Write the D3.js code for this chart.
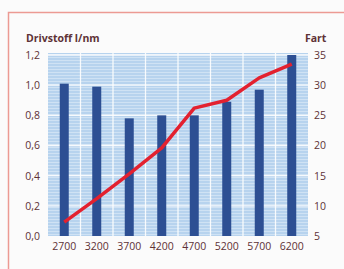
<!DOCTYPE html>
<html>
<head>
<meta charset="utf-8">
<script src="https://cdn.jsdelivr.net/npm/d3@7"></script>
<style>
  body { margin: 0; background: #fbfbfb; }
  text { font-family: "Open Sans", sans-serif; fill: #5e3236; }
</style>
</head>
<body>
<svg id="svg" width="344" height="269"></svg>
<script>
// data
const rpm = ["2700", "3200", "3700", "4200", "4700", "5200", "5700", "6200"];
const fuel = [1.01, 0.99, 0.78, 0.80, 0.80, 0.89, 0.97, 1.20];   // l/nm, bars
const speed = [7.3, 11.2, 15.3, 19.6, 26.2, 27.5, 31.2, 33.5];   // knots, line
const fuelTicks = [0, 0.2, 0.4, 0.6, 0.8, 1.0, 1.2];
const speedTicks = [5, 10, 15, 20, 25, 30, 35];

const svg = d3.select("#svg");

// frame
svg.append("rect")
  .attr("x", 8.5).attr("y", 12.5)
  .attr("width", 345).attr("height", 270)
  .attr("fill", "none")
  .attr("stroke", "#ec9a93")
  .attr("stroke-width", 1.5);

const plotL = 48, plotR = 308, plotT = 55, plotB = 236;

const x = d3.scaleBand().domain(rpm).range([plotL, plotR]);
const yL = d3.scaleLinear().domain([0, 1.2]).range([plotB, plotT]);
const yR = d3.scaleLinear().domain([5, 35]).range([plotB, plotT]);

// textured light blue plot background
const defs = svg.append("defs");
const pat = defs.append("pattern")
  .attr("id", "tex").attr("patternUnits", "userSpaceOnUse")
  .attr("width", 6).attr("height", 3);
pat.append("rect").attr("width", 6).attr("height", 3).attr("fill", "#b7d3ee");
pat.append("rect").attr("y", 0).attr("width", 6).attr("height", 1).attr("fill", "#cfe2f4");

svg.append("rect")
  .attr("x", plotL).attr("y", plotT - 2)
  .attr("width", plotR - plotL).attr("height", plotB - plotT + 2)
  .attr("fill", "url(#tex)");

// white grid
svg.append("g")
  .selectAll("line")
  .data(fuelTicks.slice(1))
  .join("line")
  .attr("x1", plotL).attr("x2", plotR)
  .attr("y1", d => yL(d)).attr("y2", d => yL(d))
  .attr("stroke", "#ffffff").attr("stroke-width", 1.3).attr("opacity", 0.9);

svg.append("g")
  .selectAll("line")
  .data(rpm.slice(1))
  .join("line")
  .attr("x1", d => x(d)).attr("x2", d => x(d))
  .attr("y1", plotT - 2).attr("y2", plotB)
  .attr("stroke", "#ffffff").attr("stroke-width", 1.3).attr("opacity", 0.9);

// bars
const barW = 9;
svg.append("g")
  .selectAll("rect")
  .data(fuel)
  .join("rect")
  .attr("x", (d, i) => x(rpm[i]) + x.bandwidth() / 2 - barW / 2)
  .attr("y", d => yL(d))
  .attr("width", barW)
  .attr("height", d => plotB - yL(d))
  .attr("fill", "#2d4f93");

// speed line
const line = d3.line()
  .x((d, i) => x(rpm[i]) + x.bandwidth() / 2)
  .y(d => yR(d));

svg.append("path")
  .datum(speed)
  .attr("d", line)
  .attr("fill", "none")
  .attr("stroke", "#e3212f")
  .attr("stroke-width", 3.5)
  .attr("stroke-linejoin", "round");

// axes
const axL = svg.append("g")
  .attr("transform", `translate(${plotL - 5},0)`)
  .call(d3.axisLeft(yL).tickValues(fuelTicks).tickSize(0)
    .tickFormat(d => d3.format(".1f")(d).replace(".", ",")));
const axR = svg.append("g")
  .attr("transform", `translate(${plotR + 3},0)`)
  .call(d3.axisRight(yR).tickValues(speedTicks).tickSize(0));
const axB = svg.append("g")
  .attr("transform", `translate(0,${plotB + 4})`)
  .call(d3.axisBottom(x).tickSize(0));

[axL, axR, axB].forEach(a => {
  a.select(".domain").remove();
  a.selectAll("text")
    .attr("font-size", 10.5)
    .attr("font-family", "Open Sans, sans-serif")
    .attr("fill", "#5e3236");
});

// titles
svg.append("text")
  .attr("x", 26).attr("y", 42)
  .attr("font-size", 10.5).attr("font-weight", "bold")
  .text("Drivstoff l/nm");
svg.append("text")
  .attr("x", 305).attr("y", 42)
  .attr("font-size", 10.5).attr("font-weight", "bold")
  .text("Fart");
</script>
</body>
</html>
